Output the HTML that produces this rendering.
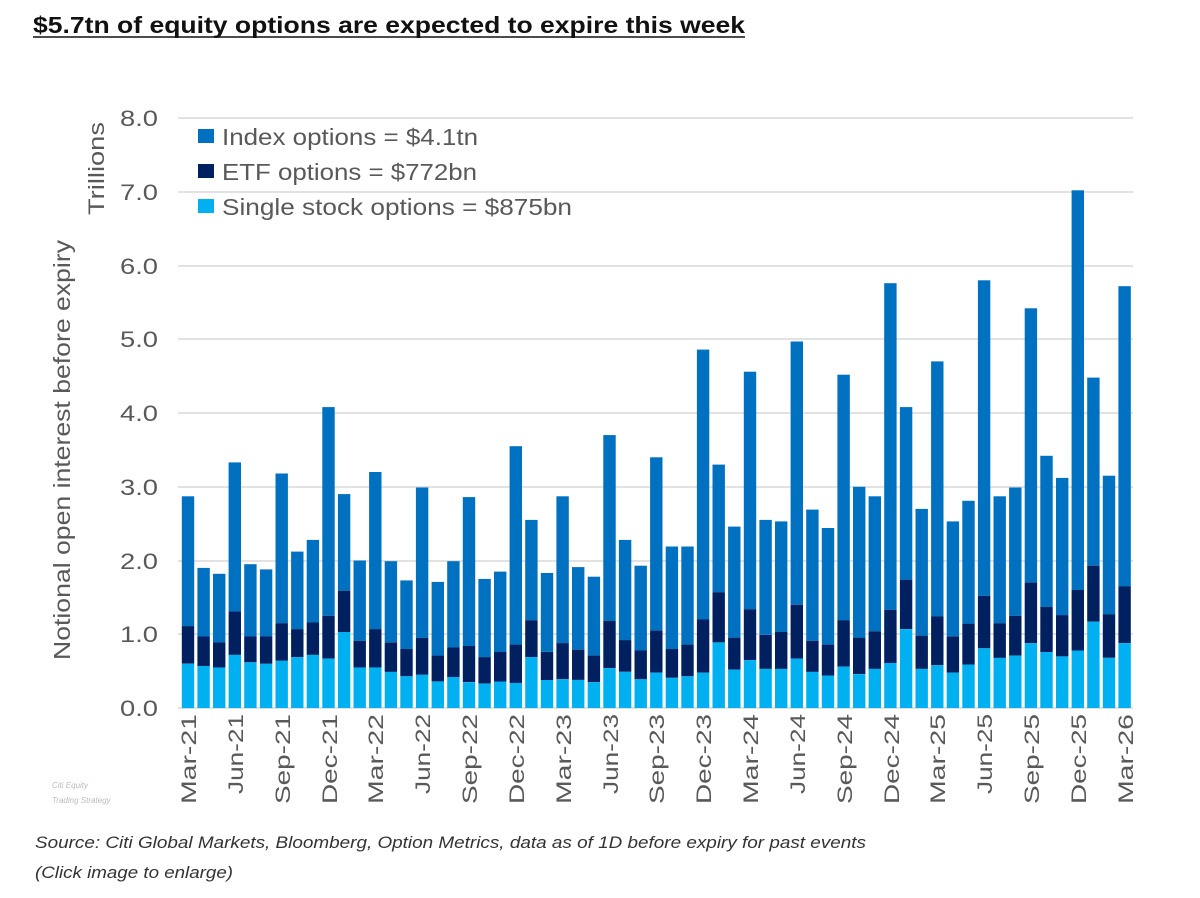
<!DOCTYPE html>
<html><head><meta charset="utf-8"><style>
body{margin:0;background:#fff;width:1200px;height:893px;overflow:hidden;font-family:"Liberation Sans",Arial,sans-serif;}
</style></head><body>
<svg id="s" width="1200" height="893" xmlns="http://www.w3.org/2000/svg" font-family="Liberation Sans, Arial, sans-serif">
<text x="33" y="33" font-size="23" font-weight="bold" fill="#111" textLength="712" lengthAdjust="spacingAndGlyphs">$5.7tn of equity options are expected to expire this week</text>
<line x1="33" y1="37" x2="745" y2="37" stroke="#111" stroke-width="1.5"/>
<g stroke="#d9d9d9" stroke-width="1.5">
<line x1="178" y1="118" x2="1133" y2="118"/><line x1="178" y1="192" x2="1133" y2="192"/>
<line x1="178" y1="266" x2="1133" y2="266"/><line x1="178" y1="339" x2="1133" y2="339"/>
<line x1="178" y1="413" x2="1133" y2="413"/><line x1="178" y1="487" x2="1133" y2="487"/>
<line x1="178" y1="561" x2="1133" y2="561"/><line x1="178" y1="634" x2="1133" y2="634"/>
<line x1="178" y1="708" x2="1133" y2="708"/>
</g>
<g font-size="22" fill="#595959" text-anchor="end">
<text x="158" y="126" textLength="38" lengthAdjust="spacingAndGlyphs">8.0</text><text x="158" y="200" textLength="38" lengthAdjust="spacingAndGlyphs">7.0</text><text x="158" y="274" textLength="38" lengthAdjust="spacingAndGlyphs">6.0</text>
<text x="158" y="347" textLength="38" lengthAdjust="spacingAndGlyphs">5.0</text><text x="158" y="421" textLength="38" lengthAdjust="spacingAndGlyphs">4.0</text><text x="158" y="495" textLength="38" lengthAdjust="spacingAndGlyphs">3.0</text>
<text x="158" y="569" textLength="38" lengthAdjust="spacingAndGlyphs">2.0</text><text x="158" y="642" textLength="38" lengthAdjust="spacingAndGlyphs">1.0</text><text x="158" y="716" textLength="38" lengthAdjust="spacingAndGlyphs">0.0</text>
</g>
<text transform="translate(104,122) rotate(-90)" font-size="22" fill="#595959" text-anchor="end" textLength="93" lengthAdjust="spacingAndGlyphs">Trillions</text>
<text transform="translate(70,660) rotate(-90)" font-size="23" fill="#595959" textLength="420" lengthAdjust="spacingAndGlyphs">Notional open interest before expiry</text>
<g id="bars"></g>
<g font-size="23" fill="#595959">
<rect x="198" y="129" width="16" height="14" fill="#0070c0"/><text x="222" y="145" textLength="256" lengthAdjust="spacingAndGlyphs">Index options = $4.1tn</text>
<rect x="198" y="164" width="16" height="14" fill="#002060"/><text x="222" y="180" textLength="255" lengthAdjust="spacingAndGlyphs">ETF options = $772bn</text>
<rect x="198" y="199" width="16" height="14" fill="#00b0f0"/><text x="222" y="215" textLength="350" lengthAdjust="spacingAndGlyphs">Single stock options = $875bn</text>
</g>
<g font-size="21" fill="#595959" text-anchor="end">
<text transform="translate(196,714) rotate(-90)" textLength="90" lengthAdjust="spacingAndGlyphs">Mar-21</text>
<text transform="translate(243,714) rotate(-90)" textLength="80" lengthAdjust="spacingAndGlyphs">Jun-21</text>
<text transform="translate(290,714) rotate(-90)" textLength="90" lengthAdjust="spacingAndGlyphs">Sep-21</text>
<text transform="translate(337,714) rotate(-90)" textLength="90" lengthAdjust="spacingAndGlyphs">Dec-21</text>
<text transform="translate(383,714) rotate(-90)" textLength="90" lengthAdjust="spacingAndGlyphs">Mar-22</text>
<text transform="translate(430,714) rotate(-90)" textLength="80" lengthAdjust="spacingAndGlyphs">Jun-22</text>
<text transform="translate(477,714) rotate(-90)" textLength="90" lengthAdjust="spacingAndGlyphs">Sep-22</text>
<text transform="translate(524,714) rotate(-90)" textLength="90" lengthAdjust="spacingAndGlyphs">Dec-22</text>
<text transform="translate(571,714) rotate(-90)" textLength="90" lengthAdjust="spacingAndGlyphs">Mar-23</text>
<text transform="translate(618,714) rotate(-90)" textLength="80" lengthAdjust="spacingAndGlyphs">Jun-23</text>
<text transform="translate(664,714) rotate(-90)" textLength="90" lengthAdjust="spacingAndGlyphs">Sep-23</text>
<text transform="translate(711,714) rotate(-90)" textLength="90" lengthAdjust="spacingAndGlyphs">Dec-23</text>
<text transform="translate(758,714) rotate(-90)" textLength="90" lengthAdjust="spacingAndGlyphs">Mar-24</text>
<text transform="translate(805,714) rotate(-90)" textLength="80" lengthAdjust="spacingAndGlyphs">Jun-24</text>
<text transform="translate(852,714) rotate(-90)" textLength="90" lengthAdjust="spacingAndGlyphs">Sep-24</text>
<text transform="translate(899,714) rotate(-90)" textLength="90" lengthAdjust="spacingAndGlyphs">Dec-24</text>
<text transform="translate(945,714) rotate(-90)" textLength="90" lengthAdjust="spacingAndGlyphs">Mar-25</text>
<text transform="translate(992,714) rotate(-90)" textLength="80" lengthAdjust="spacingAndGlyphs">Jun-25</text>
<text transform="translate(1039,714) rotate(-90)" textLength="90" lengthAdjust="spacingAndGlyphs">Sep-25</text>
<text transform="translate(1086,714) rotate(-90)" textLength="90" lengthAdjust="spacingAndGlyphs">Dec-25</text>
<text transform="translate(1133,714) rotate(-90)" textLength="90" lengthAdjust="spacingAndGlyphs">Mar-26</text>
</g>
<text x="52" y="788" font-size="8" fill="#bbb" font-style="italic">Citi Equity</text>
<text x="52" y="803" font-size="8" fill="#bbb" font-style="italic">Trading Strategy</text>
<text x="35" y="848" font-size="17" fill="#333" font-style="italic" textLength="831" lengthAdjust="spacingAndGlyphs">Source: Citi Global Markets, Bloomberg, Option Metrics, data as of 1D before expiry for past events</text>
<text x="35" y="878" font-size="17" fill="#333" font-style="italic" textLength="198" lengthAdjust="spacingAndGlyphs">(Click image to enlarge)</text>
</svg>
<script>
var d=[[2.87,.6,1.11],[1.9,.57,.97],[1.82,.55,.89],[3.33,.72,1.31],[1.95,.62,.97],[1.88,.6,.97],[3.18,.64,1.15],[2.12,.69,1.07],[2.28,.72,1.16],[4.08,.67,1.25],[2.9,1.03,1.59],[2.0,.55,.91],
[3.2,.55,1.07],[1.99,.49,.89],[1.73,.43,.8],[2.99,.45,.95],[1.71,.36,.71],[1.99,.42,.82],[2.86,.35,.84],[1.75,.33,.69],[1.85,.36,.76],[3.55,.34,.86],[2.55,.69,1.19],[1.83,.38,.76],
[2.87,.39,.88],[1.91,.38,.79],[1.78,.35,.71],[3.7,.54,1.18],[2.28,.49,.92],[1.93,.39,.78],[3.4,.48,1.05],[2.19,.41,.8],[2.19,.43,.86],[4.86,.48,1.2],[3.3,.89,1.57],[2.46,.52,.95],
[4.56,.65,1.34],[2.55,.53,.99],[2.53,.53,1.03],[4.97,.67,1.4],[2.69,.49,.91],[2.44,.44,.86],[4.52,.56,1.19],[3.0,.46,.95],[2.87,.53,1.04],[5.76,.61,1.33],[4.08,1.07,1.74],[2.7,.53,.98],
[4.7,.58,1.24],[2.53,.48,.97],[2.81,.59,1.14],[5.8,.81,1.52],[2.87,.68,1.15],[2.99,.71,1.25],[5.42,.88,1.7],[3.42,.76,1.37],[3.12,.7,1.26],[7.02,.78,1.6],[4.48,1.17,1.93],[3.15,.68,1.27],[5.72,.88,1.65]];
var g=document.getElementById('bars'),h='',s=73.75,b=708,w=12.4;
d.forEach(function(v,i){var x=188+i*15.61-w/2;
function r(a,c,col){h+='<rect x="'+x.toFixed(1)+'" y="'+(b-c*s).toFixed(1)+'" width="'+w+'" height="'+((c-a)*s).toFixed(1)+'" fill="'+col+'"/>';}
r(v[2],v[0],'#0070c0');r(v[1],v[2],'#002060');r(0,v[1],'#00b0f0');});
g.innerHTML=h;
</script>
</body></html>
